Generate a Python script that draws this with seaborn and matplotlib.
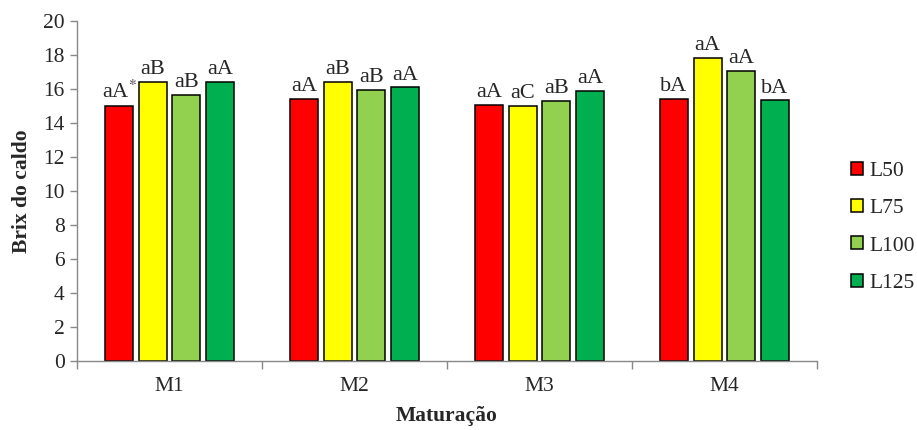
import matplotlib
matplotlib.use("Agg")
import matplotlib.pyplot as plt
import seaborn as sns
import pandas as pd
import numpy as np
from matplotlib.ticker import FixedLocator

# Maturation stages and lamina treatments
maturacao = ["M1", "M2", "M3", "M4"]
laminas = ["L50", "L75", "L100", "L125"]

# Brix do caldo per lamina, one value per maturation stage
brix_l50 = [15.0, 15.4, 15.05, 15.4]
brix_l75 = [16.4, 16.4, 15.0, 17.85]
brix_l100 = [15.65, 15.95, 15.3, 17.08]
brix_l125 = [16.4, 16.1, 15.9, 15.33]

# Significance letters shown above each bar
letras_l50 = ["aA$^{*}$", "aA", "aA", "bA"]
letras_l75 = ["aB", "aB", "aC", "aA"]
letras_l100 = ["aB", "aB", "aB", "aA"]
letras_l125 = ["aA", "aA", "aA", "bA"]

cores = ["#FF0000", "#FFFF00", "#92D050", "#00B050"]

valores = [brix_l50, brix_l75, brix_l100, brix_l125]
letras = [letras_l50, letras_l75, letras_l100, letras_l125]

df = pd.DataFrame({
    "Maturação": [m for _ in laminas for m in maturacao],
    "Lâmina": [l for l in laminas for _ in maturacao],
    "Brix": [v for serie in valores for v in serie],
})

sns.set_style("white")
plt.rcParams["font.family"] = ["Liberation Serif", "DejaVu Serif"]
plt.rcParams["mathtext.fontset"] = "stix"

fig = plt.figure(figsize=(9.17, 4.30), dpi=100)
ax = fig.add_axes([0.084, 0.161, 0.807, 0.790])

sns.barplot(
    data=df, x="Maturação", y="Brix", hue="Lâmina",
    order=maturacao, hue_order=laminas, palette=cores, saturation=1,
    width=0.728, gap=0.17, edgecolor="black", linewidth=1.1,
    errorbar=None, ax=ax,
)

# Letters above bars, placed from the same values used for the heights
for containers, serie_letras, serie_vals in zip(ax.containers, letras, valores):
    for bar, txt, val in zip(containers, serie_letras, serie_vals):
        ax.annotate(txt, (bar.get_x() + bar.get_width() / 2, val),
                    xytext=(0, 2), textcoords="offset points",
                    ha="center", va="bottom", fontsize=16)

ax.set_ylim(0, 20)
ax.set_xlim(-0.5, 3.5)
ax.set_yticks(np.arange(0, 21, 2))
ax.tick_params(axis="y", labelsize=15.5, length=5, width=1, color="#888888",
               direction="out", left=True, pad=4)
ax.tick_params(axis="x", which="major", labelsize=15.5, length=0, pad=12)
ax.xaxis.set_minor_locator(FixedLocator([-0.5, 0.5, 1.5, 2.5, 3.5]))
ax.tick_params(axis="x", which="minor", length=6, width=1, color="#888888",
               direction="out", bottom=True)

for s in ["top", "right"]:
    ax.spines[s].set_visible(False)
for s in ["left", "bottom"]:
    ax.spines[s].set_color("#888888")
    ax.spines[s].set_linewidth(1)

ax.set_xlabel("Maturação", fontsize=15.5, fontweight="bold", labelpad=7)
ax.set_ylabel("Brix do caldo", fontsize=15.5, fontweight="bold", labelpad=8)

leg = ax.legend(loc="center left", bbox_to_anchor=(1.02, 0.393), frameon=False,
                fontsize=15.5, handlelength=0.55, handleheight=0.55,
                handletextpad=0.3, labelspacing=0.85)

fig.savefig("out.png", dpi=100)
